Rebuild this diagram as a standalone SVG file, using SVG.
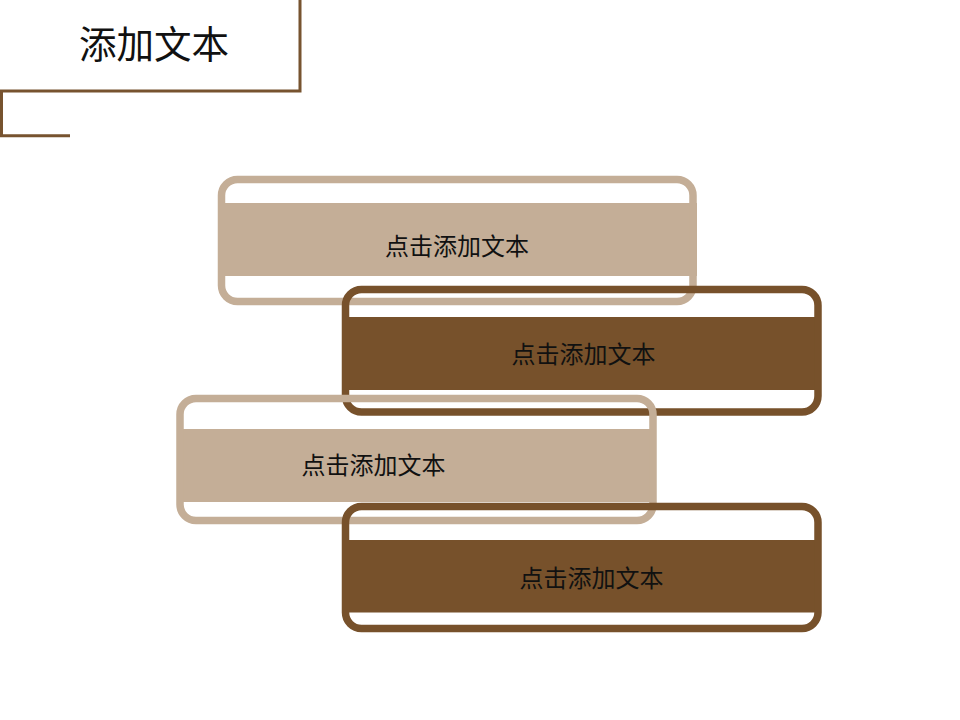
<svg xmlns="http://www.w3.org/2000/svg" width="960" height="720" viewBox="0 0 960 720">
<style>
.frame{fill:none;stroke:#77532F;stroke-width:3}
.light .ol{fill:none;stroke:#C4AE97;stroke-width:7.5}
.light .band{fill:#C4AE97}
.dark .ol{fill:none;stroke:#77512B;stroke-width:7.5}
.dark .band{fill:#77512B}
.lbl{font-family:"Noto Sans CJK SC","Microsoft YaHei",sans-serif;font-size:24px;fill:#111;text-anchor:middle}
.title{font-family:"Noto Sans CJK SC","Microsoft YaHei",sans-serif;font-size:37.5px;fill:#111}
</style>
<rect width="960" height="720" fill="#fff"/>
<g id="title">
<polyline class="frame" points="300,0 300,91 0,91"/>
<polyline class="frame" points="1.5,91 1.5,135.8 70,135.8"/>
<text class="title" x="79" y="57.5">添加文本</text>
</g>
<g id="box1" class="light">
<rect class="band" x="218" y="203" width="479" height="73"/>
<rect class="ol" x="221.5" y="179.5" width="471.5" height="122" rx="16"/>
<text class="lbl" x="457" y="255">点击添加文本</text>
</g>
<g id="box2" class="dark">
<rect class="band" x="342" y="317" width="479" height="73"/>
<rect class="ol" x="345.5" y="289.5" width="472.5" height="122.5" rx="16"/>
<text class="lbl" x="583.5" y="362.5">点击添加文本</text>
</g>
<g id="box3" class="light">
<rect class="band" x="177" y="429" width="479" height="73"/>
<rect class="ol" x="180" y="398.5" width="473" height="122" rx="16"/>
<text class="lbl" x="373.5" y="474">点击添加文本</text>
</g>
<g id="box4" class="dark">
<rect class="band" x="342" y="540" width="479" height="72.5"/>
<rect class="ol" x="345.5" y="506.5" width="472.5" height="122" rx="16"/>
<text class="lbl" x="591.5" y="587">点击添加文本</text>
</g>
</svg>
